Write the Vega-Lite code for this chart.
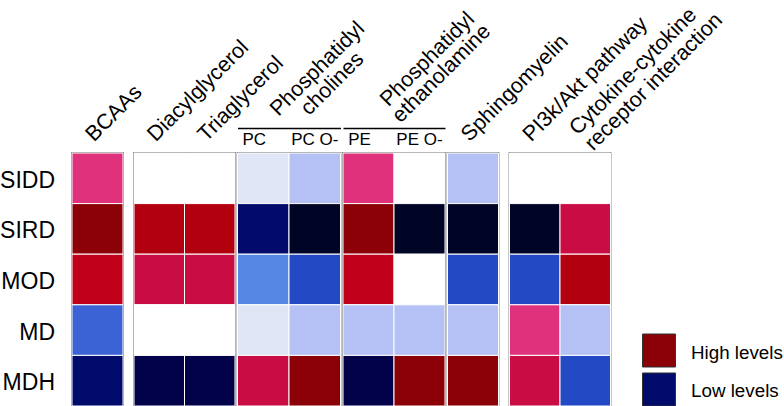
{
  "$schema": "https://vega.github.io/schema/vega-lite/v6.json",
  "autosize": {"type": "pad"},
  "padding": {"left": -2, "top": -8, "right": 0, "bottom": 0},
  "background": "white",
  "config": {
    "font": "Liberation Sans",
    "view": {"stroke": "#454545", "strokeWidth": 1.6}
  },
  "datasets": {
    "cells": [
      {"group": "bcaa", "col": "BCAAs", "row": "SIDD", "level": 1},
      {"group": "bcaa", "col": "BCAAs", "row": "SIRD", "level": 5},
      {"group": "bcaa", "col": "BCAAs", "row": "MOD", "level": 3},
      {"group": "bcaa", "col": "BCAAs", "row": "MD", "level": -4},
      {"group": "bcaa", "col": "BCAAs", "row": "MDH", "level": -6},
      {"group": "gly", "col": "Diacylglycerol", "row": "SIDD", "level": 0},
      {"group": "gly", "col": "Diacylglycerol", "row": "SIRD", "level": 4},
      {"group": "gly", "col": "Diacylglycerol", "row": "MOD", "level": 2},
      {"group": "gly", "col": "Diacylglycerol", "row": "MD", "level": 0},
      {"group": "gly", "col": "Diacylglycerol", "row": "MDH", "level": -7},
      {"group": "gly", "col": "Triaglycerol", "row": "SIDD", "level": 0},
      {"group": "gly", "col": "Triaglycerol", "row": "SIRD", "level": 4},
      {"group": "gly", "col": "Triaglycerol", "row": "MOD", "level": 2},
      {"group": "gly", "col": "Triaglycerol", "row": "MD", "level": 0},
      {"group": "gly", "col": "Triaglycerol", "row": "MDH", "level": -7},
      {"group": "pc", "col": "PC", "row": "SIDD", "level": -1},
      {"group": "pc", "col": "PC", "row": "SIRD", "level": -6},
      {"group": "pc", "col": "PC", "row": "MOD", "level": -3},
      {"group": "pc", "col": "PC", "row": "MD", "level": -1},
      {"group": "pc", "col": "PC", "row": "MDH", "level": 2},
      {"group": "pc", "col": "PC O-", "row": "SIDD", "level": -2},
      {"group": "pc", "col": "PC O-", "row": "SIRD", "level": -8},
      {"group": "pc", "col": "PC O-", "row": "MOD", "level": -5},
      {"group": "pc", "col": "PC O-", "row": "MD", "level": -2},
      {"group": "pc", "col": "PC O-", "row": "MDH", "level": 5},
      {"group": "pe", "col": "PE", "row": "SIDD", "level": 1},
      {"group": "pe", "col": "PE", "row": "SIRD", "level": 5},
      {"group": "pe", "col": "PE", "row": "MOD", "level": 3},
      {"group": "pe", "col": "PE", "row": "MD", "level": -2},
      {"group": "pe", "col": "PE", "row": "MDH", "level": -7},
      {"group": "pe", "col": "PE O-", "row": "SIDD", "level": 0},
      {"group": "pe", "col": "PE O-", "row": "SIRD", "level": -8},
      {"group": "pe", "col": "PE O-", "row": "MOD", "level": 0},
      {"group": "pe", "col": "PE O-", "row": "MD", "level": -2},
      {"group": "pe", "col": "PE O-", "row": "MDH", "level": 5},
      {"group": "sm", "col": "Sphingomyelin", "row": "SIDD", "level": -2},
      {"group": "sm", "col": "Sphingomyelin", "row": "SIRD", "level": -8},
      {"group": "sm", "col": "Sphingomyelin", "row": "MOD", "level": -5},
      {"group": "sm", "col": "Sphingomyelin", "row": "MD", "level": -2},
      {"group": "sm", "col": "Sphingomyelin", "row": "MDH", "level": 5},
      {"group": "path", "col": "PI3k/Akt pathway", "row": "SIDD", "level": 0},
      {"group": "path", "col": "PI3k/Akt pathway", "row": "SIRD", "level": -8},
      {"group": "path", "col": "PI3k/Akt pathway", "row": "MOD", "level": -5},
      {"group": "path", "col": "PI3k/Akt pathway", "row": "MD", "level": 1},
      {"group": "path", "col": "PI3k/Akt pathway", "row": "MDH", "level": 2},
      {"group": "path", "col": "Cytokine-cytokine receptor interaction", "row": "SIDD", "level": 0},
      {"group": "path", "col": "Cytokine-cytokine receptor interaction", "row": "SIRD", "level": 2},
      {"group": "path", "col": "Cytokine-cytokine receptor interaction", "row": "MOD", "level": 4},
      {"group": "path", "col": "Cytokine-cytokine receptor interaction", "row": "MD", "level": -2},
      {"group": "path", "col": "Cytokine-cytokine receptor interaction", "row": "MDH", "level": -5}
    ],
    "legend": [
      {"label": "High levels", "level": 5},
      {"label": "Low levels", "level": -6}
    ]
  },
  "resolve": {"scale": {"y": "independent"}},
  "bounds": "flush",
  "spacing": 2.5,
  "hconcat": [
    {
      "width": 51, "height": 253,
      "data": {"name": "cells"},
      "transform": [{"filter": "datum.group == 'bcaa'"}],
      "mark": {"type": "rect", "stroke": "white", "strokeWidth": 1},
      "encoding": {
        "x": {"field": "col", "type": "nominal", "sort": ["BCAAs"],
          "axis": {"orient": "top", "title": null, "labelAngle": -45, "labelAlign": "left", "labelBaseline": "alphabetic", "labelPadding": 11, "labelOffset": -3.5, "ticks": false, "tickSize": 0, "domain": false, "labelFontSize": 21.5, "labelColor": "black", "labelLimit": 400}},
        "y": {"field": "row", "type": "nominal", "sort": ["SIDD", "SIRD", "MOD", "MD", "MDH"],
          "axis": {"title": null, "ticks": false, "tickSize": 0, "domain": false, "labelFontSize": 23, "labelColor": "black", "labelPadding": 17.5, "labelOffset": 2.5}},
        "fill": {"field": "level", "type": "ordinal", "legend": null,
          "scale": {"domain": [-8, -7, -6, -5, -4, -3, -2, -1, 0, 1, 2, 3, 4, 5],
            "range": ["#000425", "#02024b", "#000b6b", "#2449c5", "#3c63d5", "#5587e5", "#b5c0f4", "#e0e6f6", "#ffffff", "#e0327c", "#c90c44", "#c0001b", "#b3000f", "#8c0008"]}}
      }
    },
    {
      "width": 6, "height": 253,
      "view": {"stroke": null},
      "data": {"values": []},
      "mark": "point"
    },
    {
      "width": 101, "height": 253,
      "data": {"name": "cells"},
      "transform": [{"filter": "datum.group == 'gly'"}],
      "mark": {"type": "rect", "stroke": "white", "strokeWidth": 1},
      "encoding": {
        "x": {"field": "col", "type": "nominal", "sort": ["Diacylglycerol", "Triaglycerol"],
          "axis": {"orient": "top", "title": null, "labelAngle": -45, "labelAlign": "left", "labelBaseline": "alphabetic", "labelPadding": 11, "labelOffset": -3.5, "ticks": false, "tickSize": 0, "domain": false, "labelFontSize": 21.5, "labelColor": "black", "labelLimit": 400}},
        "y": {"field": "row", "type": "nominal", "sort": ["SIDD", "SIRD", "MOD", "MD", "MDH"], "axis": null},
        "fill": {"field": "level", "type": "ordinal", "legend": null,
          "scale": {"domain": [-8, -7, -6, -5, -4, -3, -2, -1, 0, 1, 2, 3, 4, 5],
            "range": ["#000425", "#02024b", "#000b6b", "#2449c5", "#3c63d5", "#5587e5", "#b5c0f4", "#e0e6f6", "#ffffff", "#e0327c", "#c90c44", "#c0001b", "#b3000f", "#8c0008"]}}
      }
    },
    {
      "width": 103, "height": 253,
      "data": {"name": "cells"},
      "transform": [{"filter": "datum.group == 'pc'"}],
      "mark": {"type": "rect", "stroke": "white", "strokeWidth": 1},
      "encoding": {
        "x": {"field": "col", "type": "nominal", "sort": ["PC", "PC O-"],
          "axis": {"orient": "top", "offset": 25, "title": ["Phosphatidyl", "cholines"], "titleAngle": -45, "titleAlign": "center", "titleBaseline": "alphabetic", "titleX": 84, "titleY": -55, "titleFontSize": 21.5, "titleFontWeight": "normal", "titleColor": "black", "titleLineHeight": 21, "titleLimit": 400,
            "labelAngle": 0, "labelAlign": "center", "labelBaseline": "top", "labelPadding": -3.5, "labelFontSize": 17, "labelColor": "black",
            "labelOffset": {"condition": {"test": "datum.value == 'PC'", "value": -9}, "value": 0},
            "ticks": false, "tickSize": 0, "domain": true, "domainColor": "black", "domainWidth": 1.5}},
        "y": {"field": "row", "type": "nominal", "sort": ["SIDD", "SIRD", "MOD", "MD", "MDH"], "axis": null},
        "fill": {"field": "level", "type": "ordinal", "legend": null,
          "scale": {"domain": [-8, -7, -6, -5, -4, -3, -2, -1, 0, 1, 2, 3, 4, 5],
            "range": ["#000425", "#02024b", "#000b6b", "#2449c5", "#3c63d5", "#5587e5", "#b5c0f4", "#e0e6f6", "#ffffff", "#e0327c", "#c90c44", "#c0001b", "#b3000f", "#8c0008"]}}
      }
    },
    {
      "width": 102, "height": 253,
      "data": {"name": "cells"},
      "transform": [{"filter": "datum.group == 'pe'"}],
      "mark": {"type": "rect", "stroke": "white", "strokeWidth": 1},
      "encoding": {
        "x": {"field": "col", "type": "nominal", "sort": ["PE", "PE O-"],
          "axis": {"orient": "top", "offset": 25, "title": ["Phosphatidyl", "ethanolamine"], "titleAngle": -45, "titleAlign": "center", "titleBaseline": "alphabetic", "titleX": 88.5, "titleY": -64.5, "titleFontSize": 21.5, "titleFontWeight": "normal", "titleColor": "black", "titleLineHeight": 20, "titleLimit": 400,
            "labelAngle": 0, "labelAlign": "center", "labelBaseline": "top", "labelPadding": -3.5, "labelFontSize": 17, "labelColor": "black",
            "labelOffset": {"condition": {"test": "datum.value == 'PE'", "value": -9}, "value": 0},
            "ticks": false, "tickSize": 0, "domain": true, "domainColor": "black", "domainWidth": 1.5}},
        "y": {"field": "row", "type": "nominal", "sort": ["SIDD", "SIRD", "MOD", "MD", "MDH"], "axis": null},
        "fill": {"field": "level", "type": "ordinal", "legend": null,
          "scale": {"domain": [-8, -7, -6, -5, -4, -3, -2, -1, 0, 1, 2, 3, 4, 5],
            "range": ["#000425", "#02024b", "#000b6b", "#2449c5", "#3c63d5", "#5587e5", "#b5c0f4", "#e0e6f6", "#ffffff", "#e0327c", "#c90c44", "#c0001b", "#b3000f", "#8c0008"]}}
      }
    },
    {
      "width": 51, "height": 253,
      "data": {"name": "cells"},
      "transform": [{"filter": "datum.group == 'sm'"}],
      "mark": {"type": "rect", "stroke": "white", "strokeWidth": 1},
      "encoding": {
        "x": {"field": "col", "type": "nominal", "sort": ["Sphingomyelin"],
          "axis": {"orient": "top", "title": null, "labelAngle": -45, "labelAlign": "left", "labelBaseline": "alphabetic", "labelPadding": 11, "labelOffset": -3.5, "ticks": false, "tickSize": 0, "domain": false, "labelFontSize": 21.5, "labelColor": "black", "labelLimit": 400}},
        "y": {"field": "row", "type": "nominal", "sort": ["SIDD", "SIRD", "MOD", "MD", "MDH"], "axis": null},
        "fill": {"field": "level", "type": "ordinal", "legend": null,
          "scale": {"domain": [-8, -7, -6, -5, -4, -3, -2, -1, 0, 1, 2, 3, 4, 5],
            "range": ["#000425", "#02024b", "#000b6b", "#2449c5", "#3c63d5", "#5587e5", "#b5c0f4", "#e0e6f6", "#ffffff", "#e0327c", "#c90c44", "#c0001b", "#b3000f", "#8c0008"]}}
      }
    },
    {
      "width": 6, "height": 253,
      "view": {"stroke": null},
      "data": {"values": []},
      "mark": "point"
    },
    {
      "width": 101, "height": 253,
      "data": {"name": "cells"},
      "transform": [{"filter": "datum.group == 'path'"}],
      "mark": {"type": "rect", "stroke": "white", "strokeWidth": 1},
      "encoding": {
        "x": {"field": "col", "type": "nominal", "sort": ["PI3k/Akt pathway", "Cytokine-cytokine receptor interaction"],
          "axis": {"orient": "top", "title": null, "labelAngle": -45, "labelAlign": "left", "labelBaseline": "alphabetic", "labelLineHeight": 22,
            "labelExpr": "indexof(datum.value, 'receptor') >= 0 ? ['Cytokine-cytokine', 'receptor interaction'] : datum.label",
            "labelPadding": {"condition": {"test": "indexof(datum.value, 'receptor') >= 0", "value": 17.5}, "value": 11},
            "labelOffset": {"condition": {"test": "indexof(datum.value, 'receptor') >= 0", "value": -7.5}, "value": -3.5},
            "ticks": false, "tickSize": 0, "domain": false, "labelFontSize": 21.5, "labelColor": "black", "labelLimit": 400}},
        "y": {"field": "row", "type": "nominal", "sort": ["SIDD", "SIRD", "MOD", "MD", "MDH"], "axis": null},
        "fill": {"field": "level", "type": "ordinal", "legend": null,
          "scale": {"domain": [-8, -7, -6, -5, -4, -3, -2, -1, 0, 1, 2, 3, 4, 5],
            "range": ["#000425", "#02024b", "#000b6b", "#2449c5", "#3c63d5", "#5587e5", "#b5c0f4", "#e0e6f6", "#ffffff", "#e0327c", "#c90c44", "#c0001b", "#b3000f", "#8c0008"]}}
      }
    },
    {
      "width": 27, "height": 253,
      "view": {"stroke": null},
      "data": {"values": []},
      "mark": "point"
    },
    {
      "bounds": "flush",
      "spacing": 4,
      "vconcat": [
        {
          "width": 33, "height": 177,
          "view": {"stroke": null},
          "data": {"values": []},
          "mark": "point"
        },
        {
          "width": 33, "height": 72,
          "view": {"stroke": null},
          "data": {"name": "legend"},
          "mark": {"type": "rect", "stroke": "#333333", "strokeWidth": 1},
          "encoding": {
            "y": {"field": "label", "type": "nominal", "sort": ["High levels", "Low levels"],
              "scale": {"paddingInner": 0.1538, "paddingOuter": 0},
              "axis": {"orient": "right", "title": null, "ticks": false, "tickSize": 0, "domain": false, "labelFontSize": 18.8, "labelColor": "black", "labelPadding": 15, "labelOffset": 2, "labelLimit": 400}},
            "fill": {"field": "level", "type": "ordinal", "legend": null,
              "scale": {"domain": [-8, -7, -6, -5, -4, -3, -2, -1, 0, 1, 2, 3, 4, 5],
                "range": ["#000425", "#02024b", "#000b6b", "#2449c5", "#3c63d5", "#5587e5", "#b5c0f4", "#e0e6f6", "#ffffff", "#e0327c", "#c90c44", "#c0001b", "#b3000f", "#8c0008"]}}
          }
        }
      ]
    }
  ]
}
